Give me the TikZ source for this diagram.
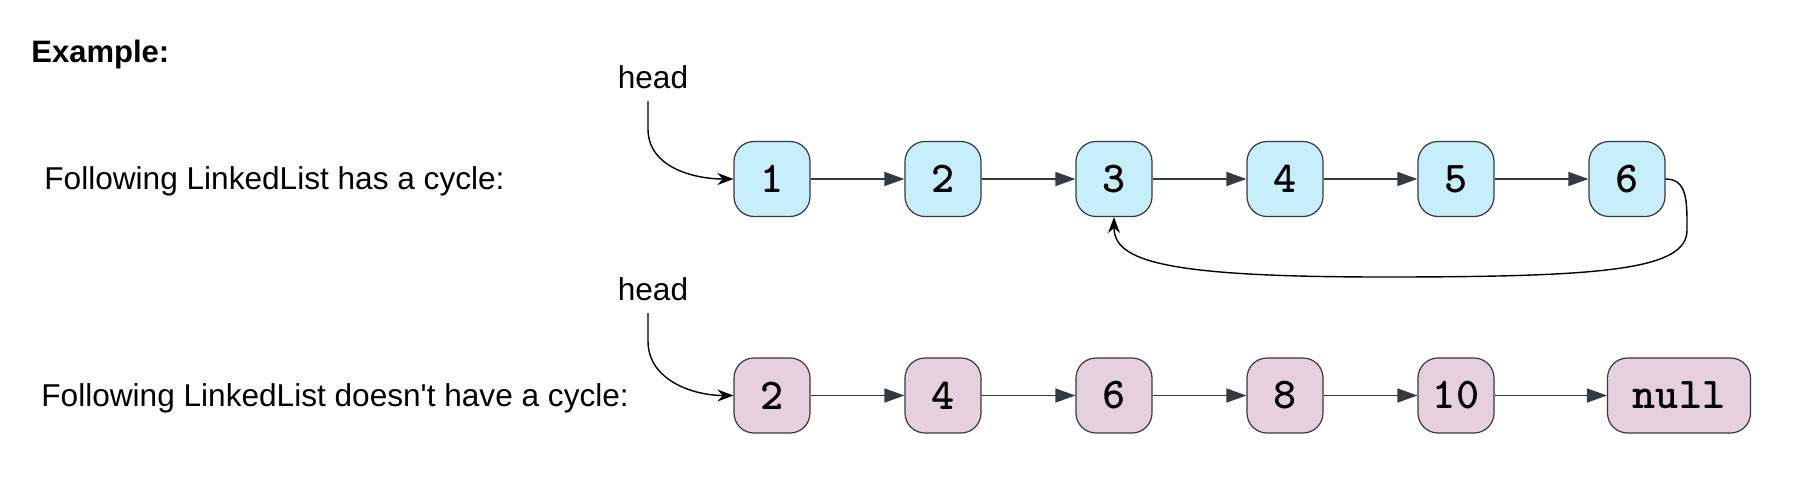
\documentclass[tikz,border=0pt]{standalone}
\usepackage{fontspec}
\setmainfont{Liberation Sans}
\usetikzlibrary{arrows.meta}
\definecolor{cyclefill}{HTML}{C6EEFB}
\definecolor{plainfill}{HTML}{E6D0DE}
\definecolor{edge}{HTML}{36393D}
\tikzset{
  listnode/.style={draw=edge, line width=0.6pt, rounded corners=10pt,
    minimum width=38pt, minimum height=37.5pt, inner sep=2pt,
    font=\fontsize{22}{24}\selectfont\ttfamily\bfseries},
  txt/.style={inner sep=0pt, font=\fontsize{15.8}{18}\selectfont},
  nextptr/.style={-{Triangle[length=10pt,width=7pt,fill=edge]}, line width=0.7pt, draw=edge},
  ptr/.style={-{Stealth[length=8pt,width=6pt]}, line width=0.7pt},
}

\begin{document}
\begin{tikzpicture}[x=1pt,y=1pt]
\useasboundingbox (0,0) rectangle (904,242);
\node[txt,anchor=west,font=\fontsize{15.5}{18}\selectfont\bfseries] (title) at (15.5,215) {Example:};
\node[txt,anchor=west] (cap1) at (22,151.5) {Following LinkedList has a cycle:};
\node[txt,anchor=west] (cap2) at (20.5,43) {Following LinkedList doesn\textquotesingle t have a cycle:};
\node[txt] (hd1) at (326.5,203.5) {head};
\node[txt] (hd2) at (326.5,97.5) {head};

% list with a cycle
\foreach \v [count=\i] in {1,...,6}
  \node[listnode,fill=cyclefill] (a\i) at ({386+85.5*(\i-1)},152.5) {\v};
\foreach \i/\j in {1/2,2/3,3/4,4/5,5/6}
  \draw[nextptr] (a\i) -- (a\j);
\coordinate (turn) at (843.5,127);
\coordinate (bot) at (692,103.5);
\draw[ptr] (a6.east) .. controls +(11,0) and +(0,14) .. (turn)
  .. controls +(0,-20) and +(110,0) .. (bot)
  .. controls +(-110,0) and +(0,-22) .. (a3.south);
\draw[ptr] ([xshift=-2.5pt,yshift=-6pt]hd1.south) -- ++(0,-14) to[out=-90,in=180] (a1.west);

% list without a cycle
\foreach \v [count=\i] in {2,4,6,8,10}
  \node[listnode,fill=plainfill] (b\i) at ({386+85.5*(\i-1)},44.25) {\v};
\node[listnode,fill=plainfill,minimum width=71.5pt] (b6) at (839.5,44.25) {null};
\foreach \i/\j in {1/2,2/3,3/4,4/5,5/6}
  \draw[nextptr] (b\i) -- (b\j);
\draw[ptr] ([xshift=-2.5pt,yshift=-6pt]hd2.south) -- ++(0,-14) to[out=-90,in=180] (b1.west);
\end{tikzpicture}
\end{document}
